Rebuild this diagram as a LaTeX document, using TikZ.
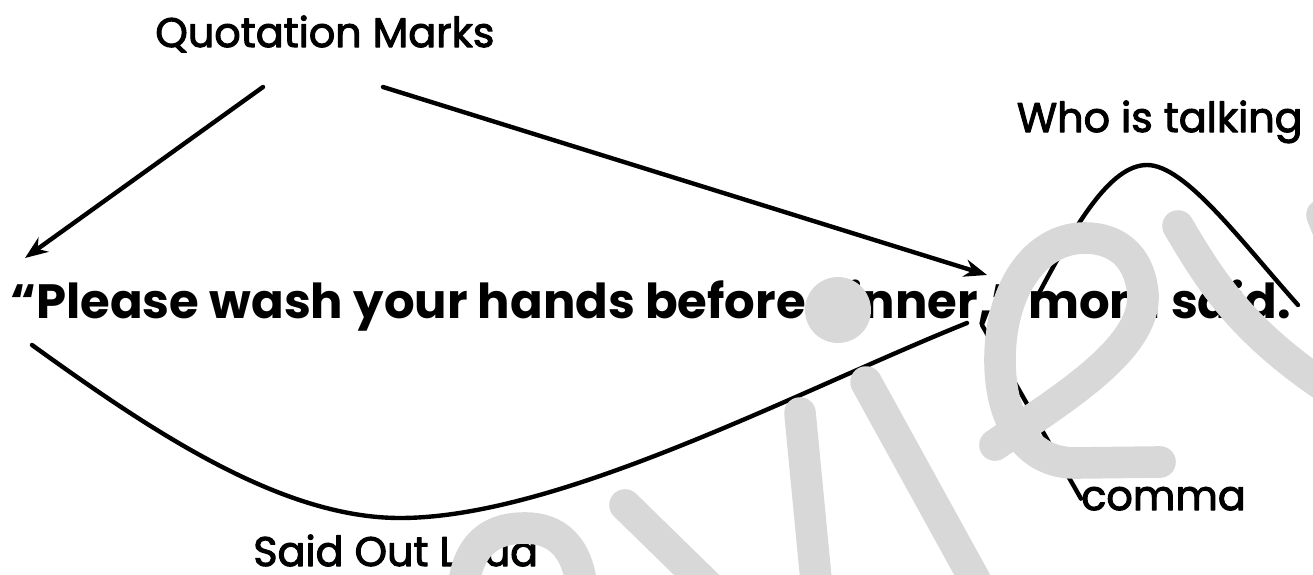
\documentclass[tikz,border=0pt]{standalone}
\usepackage{fontspec}
\setmainfont{Poppins}
\newfontfamily\labelfont{Poppins}[FakeBold=2.5]
\usetikzlibrary{arrows.meta}
\definecolor{wmgray}{RGB}{216,216,216}

\begin{document}
\begin{tikzpicture}[x=0.02cm, y=-0.02cm, >={Stealth[length=13pt,width=10pt]}, line cap=round, line join=round]
	\tikzset{
		label/.style={anchor=base west, inner sep=0pt, font=\labelfont\fontsize{23.5}{28}\selectfont},
		link/.style={line width=2.5pt},
		mark wm/.style={wmgray, line width=18pt}
	}
	\useasboundingbox (0,0) rectangle (1313,575);

	% the sentence and its labels
	\node[anchor=base west, inner sep=0pt, font=\bfseries\fontsize{27.4}{32}\selectfont] (sentence) at (10,318) {“Please wash your hands before dinner,” mom said.};
	\node[label] (quote) at (155,47) {Quotation Marks};
	\node[label, anchor=base east] (who) at (1303,132) {Who is talking};
	\node[label] (loud) at (253,566) {Said Out Loud};
	\node[label] (comma) at (1081,510) {comma};

	% ends of the connectors
	\coordinate (qleft) at (263,87);
	\coordinate (qright) at (383,87);
	\coordinate (openq) at (25,258);
	\coordinate (closeq) at (987,275);
	\coordinate (openlow) at (32,345);
	\coordinate (dinnercomma) at (967,323);
	\coordinate (momfoot) at (1037,297);
	\coordinate (saidfoot) at (1298,305);
	\coordinate (commatop) at (982,325);

	\draw[->, link] (qleft) -- (openq);
	\draw[->, link] (qright) -- (closeq);
	\draw[link] (openlow) .. controls (150,430) and (280,518) .. (400,518)
		.. controls (560,518) and (800,390) .. (dinnercomma);
	\draw[link] (momfoot) .. controls (1075,225) and (1110,165) .. (1147,165)
		.. controls (1185,165) and (1240,240) .. (saidfoot);
	\draw[link] (commatop) -- (comma.west);

	% preview watermark
	\draw[mark wm] (463,590) .. controls (468,540) and (495,528) .. (525,528)
		.. controls (555,528) and (578,545) .. (582,590);
	\draw[mark wm] (625,505) -- (712,590);
	\draw[mark wm] (800,413) -- (817,590);
	\fill[wmgray] (838,310) circle (33);
	\draw[mark wm] (866,382) -- (975,580);
	\draw[mark wm] (995,445) .. controls (1060,400) and (1145,350) .. (1143,295)
		.. controls (1140,255) and (1115,238) .. (1085,238)
		.. controls (1035,238) and (1000,290) .. (1000,360)
		.. controls (1000,425) and (1030,463) .. (1075,463) -- (1160,462);
	\draw[mark wm] (1178,226) .. controls (1210,280) and (1240,330) .. (1330,390);
	\draw[mark wm] (1322,215) -- (1340,260);
\end{tikzpicture}
\end{document}
